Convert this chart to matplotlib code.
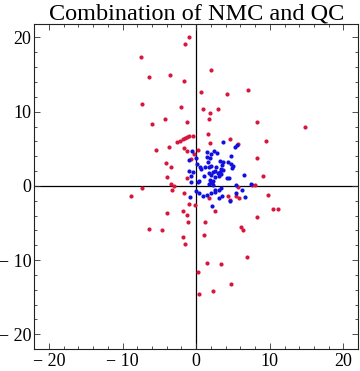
import matplotlib
matplotlib.use("Agg")
import matplotlib.pyplot as plt
from matplotlib.ticker import MultipleLocator, FuncFormatter

# NMC points (red)
nmc_x = [-0.95, -1.49, -7.45, 1.99, -6.37, -3.52, -1.67, 0.64, 4.2, 7.0, -7.3, -2.07,
         0.87, 2.98, 1.9, -4.24, 1.76, -6.04, -1.22, 8.2, 14.8, 1.63, -2.66, -2.2,
         -1.76, -1.49, -1.3, -1.03, -0.4, 4.57, 1.9, 5.7, 9.5, -3.66, -1.62, -5.42,
         -1.26, 0.23, -0.27, 8.3, -0.76, -4.07, -3.39, -3.93, -1.22, 9.08, -3.43,
         -3.02, -7.4, -3.29, 7.6, 8.0, 5.69, -8.8, -1.62, 4.34, 5.47, 5.83, 1.72,
         9.76, 4.57, -0.95, -0.13, 10.4, 11.1, -1.76, -3.93, 2.57, -1.22, 8.27,
         -1.08, 1.22, -6.37, -4.6, 6.15, 6.42, 1.08, -1.8, -1.49, 6.87, 1.49, 3.35,
         0.23, 4.74, 2.26, 0.41]
nmc_y = [20.07, 19.1, 17.4, 15.6, 14.7, 14.9, 14.2, 12.6, 12.4, 12.9, 11.1, 10.6,
         10.3, 10.4, 9.8, 9.05, 9.0, 8.35, 8.6, 8.6, 7.9, 6.95, 5.88, 6.05, 6.32,
         6.5, 6.64, 6.77, 6.69, 6.28, 5.78, 5.6, 6.0, 5.2, 5.07, 4.8, 4.66, 4.8,
         4.26, 3.7, 3.58, 3.08, 2.5, 1.15, 1.01, 1.28, 0.24, -0.07, -0.25, -0.57,
         0.15, 0.15, -0.2, -1.42, -1.02, -1.42, -1.42, -1.7, -1.7, -1.28, -1.96,
         -2.5, -2.64, -3.18, -3.18, -3.45, -3.72, -3.45, -3.99, -4.26, -4.93,
         -4.93, -5.75, -5.88, -5.61, -6.0, -6.56, -6.83, -7.9, -9.53, -10.34,
         -10.47, -11.55, -13.18, -14.12, -14.53]

# QC points (blue)
qc_x = [3.58, 5.29, 5.5, -0.54, 1.41, 2.44, 2.76, 2.03, 1.49, -0.04, 1.9, 4.74,
        -0.95, 1.59, 3.25, 3.58, 4.34, 4.66, 5.01, 4.88, 0.05, 0.54, 0.64, 1.14,
        1.76, 2.03, 2.63, 3.44, 3.31, 1.69, 2.23, 2.6, 2.91, 3.28, 3.66, -0.95,
        -0.4, -0.76, 1.08, 2.03, 2.49, 3.03, 3.34, 4.2, 4.39, 6.46, -0.68, 0.19,
        0.41, 1.86, 1.95, 2.13, 1.76, 2.26, 2.3, 5.34, 7.41, -0.04, 0.37, 1.41,
        1.99, 2.54, 2.57, 3.08, 3.39, 5.38, 6.19, -0.81, 0.95, 3.08, 3.48, 6.64,
        4.61, 2.17]
qc_y = [5.88, 5.28, 5.45, 4.66, 4.52, 4.66, 4.39, 4.26, 3.93, 3.72, 3.72, 3.98,
        3.45, 3.18, 3.35, 3.18, 3.18, 2.95, 2.72, 2.45, 2.9, 2.5, 2.23, 2.54, 2.54,
        2.72, 2.5, 2.77, 2.23, 1.69, 1.86, 1.96, 1.69, 1.86, 2.14, 1.96, 1.82,
        1.28, 1.28, 1.5, 1.19, 1.36, 1.55, 1.01, 1.01, 1.42, 0.51, 0.51, 0.65,
        0.78, 0.51, 0.34, 0.24, 0.61, 0.11, 0.07, 0.2, -0.7, -1.01, -1.28, -1.01,
        -0.57, -0.88, -0.61, -0.34, -1.01, -0.61, -1.55, -1.42, -1.69, -1.38,
        -1.55, -2.1, -2.77]

title_text = "Combination of NMC and QC"

plt.rcParams['font.family'] = ['Liberation Serif', 'DejaVu Serif']

fig = plt.figure(figsize=(3.6, 3.71), dpi=100)
ax = fig.add_axes([0.095, 0.059, 0.9, 0.876])

# axes through the origin
ax.axhline(0, color='black', lw=0.9, zorder=1)
ax.axvline(0, color='black', lw=0.9, zorder=1)

ax.scatter(nmc_x, nmc_y, s=9, color='#d6163c', linewidths=0, zorder=2)
ax.scatter(qc_x, qc_y, s=9, color='#1010e0', linewidths=0, zorder=3)

ax.set_xlim(-22, 22)
ax.set_ylim(-22, 21.8)

fmt = FuncFormatter(lambda v, p: f"\u2212 {abs(int(v))}" if v < 0 else f"{int(v)}")
for axis in (ax.xaxis, ax.yaxis):
    axis.set_major_locator(MultipleLocator(10))
    axis.set_minor_locator(MultipleLocator(2))
    axis.set_major_formatter(fmt)

ax.tick_params(which='both', direction='in', top=True, right=True,
               labelsize=13, width=0.6, color='#333333')
ax.tick_params(which='major', length=4.5)
ax.tick_params(which='minor', length=2.5)
ax.tick_params(axis='x', pad=3)
ax.tick_params(axis='y', pad=2)
for sp in ax.spines.values():
    sp.set_linewidth(0.8)
    sp.set_color('#222222')

ax.set_title(title_text, fontsize=17.5, pad=3)

fig.savefig("out.png", dpi=100)
